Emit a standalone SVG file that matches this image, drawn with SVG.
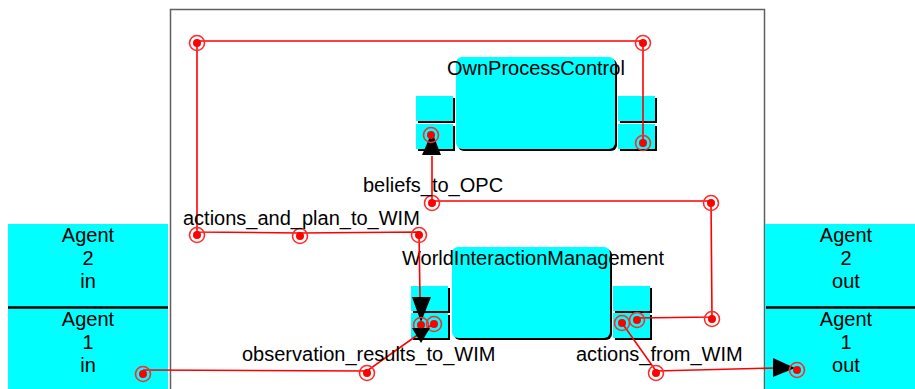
<svg xmlns="http://www.w3.org/2000/svg" xmlns:xlink="http://www.w3.org/1999/xlink" width="915" height="389" viewBox="0 0 915 389">
<style>
.cy{fill:#00ffff}
.sh{fill:#000}
.frame{fill:none;stroke:#606060;stroke-width:1.5}
.div{stroke:#000;stroke-width:2.5}
.wire{fill:none;stroke:#ff0000;stroke-width:1.6}
.ring{fill:none;stroke:#ff2a2a;stroke-width:1.6}
.dot{fill:#ff0000}
.arr{fill:#000}
.t{font-family:"Liberation Sans",Arial,Helvetica,sans-serif;font-size:20px;fill:#000}
.c{text-anchor:middle}
</style>
<defs>
<g id="pt"><circle r="7.5" class="ring"/><circle r="4" class="dot"/></g>
<g id="cell"><rect x="2" y="2" width="37" height="25" class="sh"/><rect x="0" y="0" width="37" height="25" class="cy"/></g>
</defs>
<rect width="915" height="389" fill="#fff"/>
<g id="frame">
<path class="frame" d="M170.5 389V9.5H764.5V389"/>
</g>
<g id="agent2in">
<rect x="8" y="224" width="160" height="84" class="cy"/>
<text class="t c" x="88" y="242">Agent</text>
<text class="t c" x="88" y="265">2</text>
<text class="t c" x="88" y="288">in</text>
</g>
<g id="agent1in">
<rect x="8" y="308" width="160" height="81" class="cy"/>
<line class="div" x1="8" y1="307.5" x2="168" y2="307.5"/>
<text class="t c" x="88" y="326">Agent</text>
<text class="t c" x="88" y="349">1</text>
<text class="t c" x="88" y="372">in</text>
</g>
<g id="agent2out">
<rect x="765" y="224" width="150" height="84" class="cy"/>
<text class="t c" x="846" y="242">Agent</text>
<text class="t c" x="846" y="265">2</text>
<text class="t c" x="846" y="288">out</text>
</g>
<g id="agent1out">
<rect x="765" y="308" width="150" height="81" class="cy"/>
<line class="div" x1="766" y1="307.5" x2="915" y2="307.5"/>
<text class="t c" x="846" y="326">Agent</text>
<text class="t c" x="846" y="349">1</text>
<text class="t c" x="846" y="372">out</text>
</g>
<g id="OwnProcessControl">
<rect x="458" y="59" width="159" height="92" rx="6" class="sh"/>
<rect x="456" y="57" width="159" height="92" rx="6" class="cy"/>
<use xlink:href="#cell" x="416" y="96"/>
<use xlink:href="#cell" x="416" y="124"/>
<use xlink:href="#cell" x="618" y="96"/>
<use xlink:href="#cell" x="618" y="124"/>
<text class="t" x="447" y="75">OwnProcessControl</text>
</g>
<g id="WorldInteractionManagement">
<rect x="454" y="249" width="158" height="91" rx="6" class="sh"/>
<rect x="452" y="247" width="158" height="91" rx="6" class="cy"/>
<use xlink:href="#cell" x="411" y="286"/>
<use xlink:href="#cell" x="411" y="313"/>
<use xlink:href="#cell" x="613" y="286"/>
<use xlink:href="#cell" x="613" y="313"/>
<text class="t" x="402" y="265">WorldInteractionManagement</text>
</g>
<g id="connectors">
<g id="actions_and_plan_to_WIM">
<polyline class="wire" points="643,143 643,41 197,41 197,232 300,233 419,232 420,298"/>
<polygon class="arr" points="412,297 431,297 421,322"/>
<use xlink:href="#pt" x="643" y="43"/>
<use xlink:href="#pt" x="643" y="143"/>
<use xlink:href="#pt" x="197" y="43"/>
<use xlink:href="#pt" x="197" y="235"/>
<use xlink:href="#pt" x="300" y="236"/>
<use xlink:href="#pt" x="419" y="235"/>
<use xlink:href="#pt" x="421" y="325"/>
<text class="t" x="183" y="225">actions_and_plan_to_WIM</text>
</g>
<g id="beliefs_to_OPC">
<polyline class="wire" points="637,318 712,317 711,201 432,201 432,156"/>
<polygon class="arr" points="422,155 441,155 432,132"/>
<use xlink:href="#pt" x="637" y="320"/>
<use xlink:href="#pt" x="712" y="319"/>
<use xlink:href="#pt" x="711" y="203"/>
<use xlink:href="#pt" x="432" y="203"/>
<use xlink:href="#pt" x="431" y="135"/>
<text class="t" x="363" y="192">beliefs_to_OPC</text>
</g>
<g id="observation_results_to_WIM">
<polyline class="wire" points="143,370 367,371 433,324"/>
<use xlink:href="#pt" x="143" y="374"/>
<use xlink:href="#pt" x="367" y="373"/>
<use xlink:href="#pt" x="434" y="324"/>
<polygon class="arr" points="412,328 430,328 421,343"/>
<text class="t" x="242" y="361">observation_results_to_WIM</text>
</g>
<g id="actions_from_WIM">
<polyline class="wire" points="622,323 656,371 775,368"/>
<polygon class="arr" points="773,358 773,377 795,368"/>
<use xlink:href="#pt" x="622" y="323"/>
<use xlink:href="#pt" x="656" y="373"/>
<use xlink:href="#pt" x="797" y="370"/>
<text class="t" x="576" y="361">actions_from_WIM</text>
</g>
</g>
</svg>
